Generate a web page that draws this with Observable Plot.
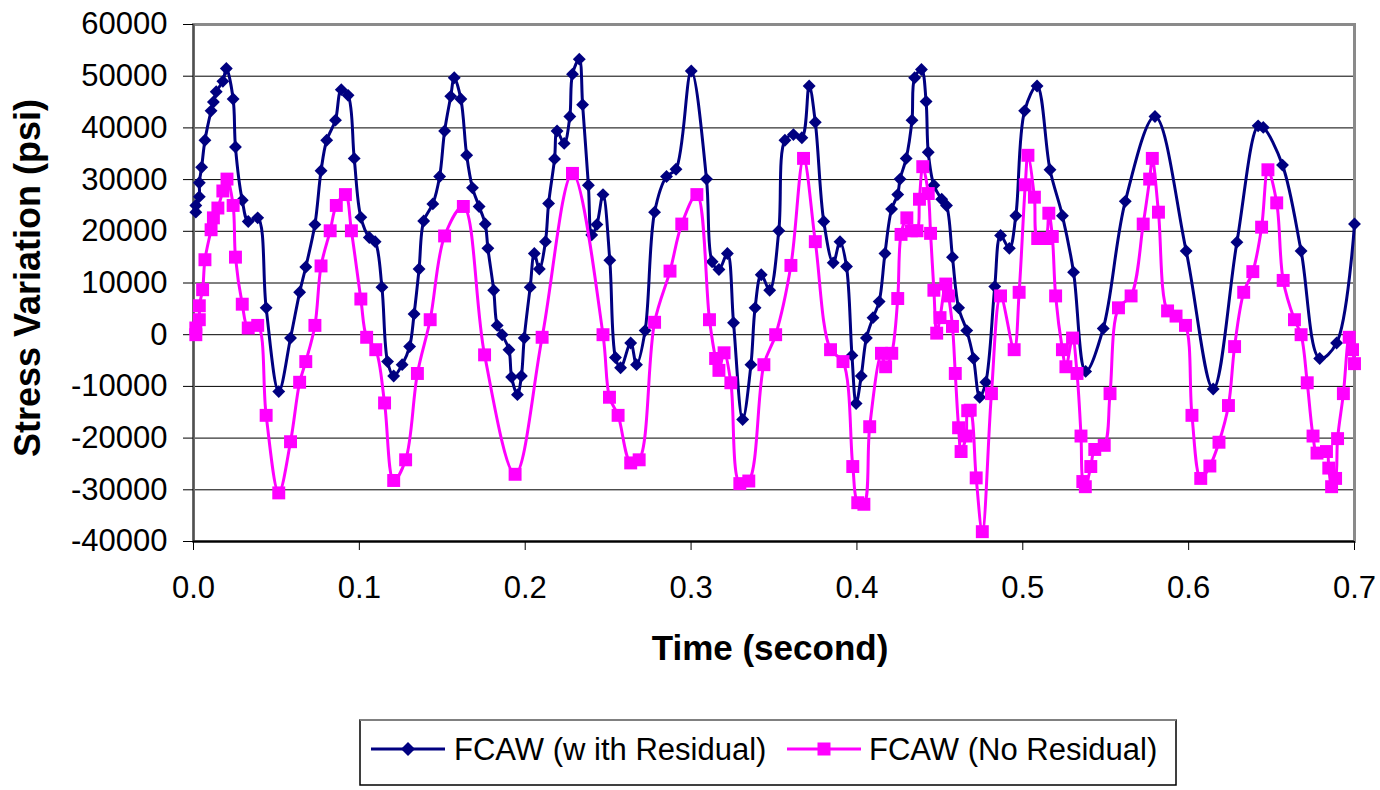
<!DOCTYPE html>
<html><head><meta charset="utf-8">
<script src="https://cdn.jsdelivr.net/npm/d3@7"></script>
<script src="https://cdn.jsdelivr.net/npm/@observablehq/plot@0.6"></script>
<style>
body{margin:0;background:#fff;font-family:"Liberation Sans",Arial,sans-serif;}
#chart{position:absolute;left:0;top:0;}
#legend{position:absolute;left:359px;top:719px;}
</style></head><body>
<div id="chart"></div>
<div id="legend"></div>
<script>
const seriesNames = ["FCAW (w ith Residual)", "FCAW (No Residual)"];
const seriesColors = ["#000080", "#FF00FF"];

const withResidualTime = [0.0014,0.0014,0.0035,0.0035,0.0049,0.0069,0.0106,0.0120,0.0137,0.0177,0.0198,0.0239,0.0253,0.0294,0.0330,0.0387,0.0438,0.0514,0.0585,0.0640,0.0677,0.0732,0.0769,0.0803,0.0856,0.0891,0.0932,0.0969,0.1009,0.1060,0.1095,0.1136,0.1170,0.1207,0.1258,0.1303,0.1330,0.1360,0.1388,0.1443,0.1484,0.1514,0.1551,0.1572,0.1612,0.1647,0.1682,0.1722,0.1759,0.1775,0.1810,0.1831,0.1861,0.1902,0.1918,0.1953,0.1977,0.1994,0.2030,0.2055,0.2085,0.2122,0.2141,0.2177,0.2192,0.2235,0.2269,0.2285,0.2326,0.2346,0.2381,0.2401,0.2432,0.2469,0.2510,0.2544,0.2575,0.2636,0.2671,0.2723,0.2780,0.2852,0.2909,0.3001,0.3093,0.3127,0.3168,0.3219,0.3256,0.3311,0.3361,0.3386,0.3423,0.3474,0.3529,0.3566,0.3617,0.3668,0.3712,0.3749,0.3800,0.3857,0.3898,0.3937,0.3970,0.3995,0.4026,0.4057,0.4097,0.4134,0.4169,0.4209,0.4246,0.4260,0.4297,0.4332,0.4348,0.4389,0.4417,0.4430,0.4464,0.4511,0.4540,0.4576,0.4613,0.4662,0.4703,0.4740,0.4777,0.4831,0.4866,0.4919,0.4958,0.5011,0.5086,0.5164,0.5239,0.5306,0.5379,0.5485,0.5618,0.5797,0.5985,0.6148,0.6291,0.6419,0.6450,0.6566,0.6678,0.6790,0.6892,0.7000];
const withResidualStress = [23700,25000,26700,29400,32400,37600,43300,45000,47000,49000,51500,45600,36300,26000,21900,22600,5200,-11000,-650,8200,13100,21300,31700,37600,41500,47400,46300,34100,22700,18800,18000,9200,-5200,-8000,-5800,-2300,4000,12700,22000,25300,30600,39400,46100,49700,45600,34700,28400,24800,21400,16700,8600,1800,0,-2900,-8200,-11600,-8000,-650,9200,15700,12700,18000,25400,34000,39400,37000,42200,50400,53300,44500,28900,19300,21300,27100,14400,-4400,-6400,-1600,-5800,800,23700,30600,32000,51000,30100,14100,12600,15700,2300,-16400,-5800,5200,11600,8600,20100,37600,38700,38100,48100,41100,21900,13900,18000,13200,-4000,-13300,-8000,-650,3300,6400,15700,24300,27100,30100,34100,41500,49700,51300,45100,35300,28900,26200,25000,15000,5200,800,-4600,-12100,-9200,9300,19200,16700,23000,43300,48100,31900,23000,12100,-7100,1200,25800,42200,16200,-10500,17900,40400,40100,32800,16200,-4600,-1600,21400];

const noResidualTime = [0.0014,0.0014,0.0035,0.0035,0.0055,0.0069,0.0106,0.0120,0.0147,0.0177,0.0202,0.0239,0.0253,0.0294,0.0330,0.0387,0.0438,0.0514,0.0585,0.0640,0.0677,0.0732,0.0769,0.0824,0.0861,0.0916,0.0952,0.1009,0.1044,0.1099,0.1152,0.1207,0.1279,0.1350,0.1427,0.1514,0.1627,0.1755,0.1939,0.2102,0.2285,0.2469,0.2508,0.2560,0.2636,0.2687,0.2780,0.2873,0.2944,0.3035,0.3111,0.3148,0.3168,0.3199,0.3240,0.3294,0.3348,0.3439,0.3510,0.3602,0.3678,0.3749,0.3841,0.3916,0.3975,0.4005,0.4042,0.4077,0.4148,0.4173,0.4210,0.4246,0.4266,0.4301,0.4328,0.4362,0.4377,0.4397,0.4430,0.4444,0.4464,0.4481,0.4501,0.4536,0.4552,0.4576,0.4593,0.4613,0.4628,0.4658,0.4668,0.4683,0.4719,0.4756,0.4811,0.4866,0.4948,0.4978,0.5015,0.5031,0.5070,0.5090,0.5137,0.5157,0.5178,0.5198,0.5239,0.5260,0.5300,0.5327,0.5351,0.5362,0.5377,0.5410,0.5434,0.5491,0.5526,0.5577,0.5653,0.5726,0.5765,0.5781,0.5818,0.5873,0.5924,0.5981,0.6020,0.6073,0.6128,0.6183,0.6240,0.6277,0.6332,0.6387,0.6440,0.6478,0.6531,0.6570,0.6638,0.6678,0.6715,0.6750,0.6774,0.6831,0.6845,0.6862,0.6886,0.6898,0.6933,0.6968,0.6988,0.7000];
const noResidualStress = [0,1300,2900,5600,8700,14500,20300,22600,24500,27800,30100,25000,15000,5900,1300,1800,-15600,-30600,-20700,-9200,-5200,1800,13300,20100,25000,27100,20100,6900,-500,-2900,-13200,-28200,-24200,-7500,2900,19100,24800,-3900,-27000,-500,31200,0,-12100,-15600,-24800,-24200,2400,12300,21400,27100,2900,-4600,-6900,-3500,-9300,-28800,-28300,-5800,0,13400,34100,18000,-2900,-5200,-25500,-32500,-32800,-17800,-3600,-6200,-3600,7000,19400,22600,20100,20100,26200,32500,27300,19600,8600,300,3300,9800,7500,1600,-7500,-18000,-22600,-19600,-14700,-14600,-27700,-38100,-11400,7500,-2900,8200,29000,34700,26600,18600,18600,23500,19000,7500,-2900,-6200,-650,-7500,-19600,-28400,-29400,-25500,-22200,-21400,-11400,5200,7500,21400,30100,34100,23700,4600,3600,1800,-15600,-27800,-25400,-20800,-13700,-2300,8200,12200,20800,31900,25500,10500,2900,0,-9300,-19600,-22900,-22600,-25800,-29400,-27800,-20100,-11400,-500,-2900,-5600];

const xTicks = [0, 0.1, 0.2, 0.3, 0.4, 0.5, 0.6, 0.7];
const xTickLabels = ["0.0","0.1","0.2","0.3","0.4","0.5","0.6","0.7"];
const yTicks = [-40000,-30000,-20000,-10000,0,10000,20000,30000,40000,50000,60000];
const yTickLabels = ["-40000","-30000","-20000","-10000","0","10000","20000","30000","40000","50000","60000"];
const xTitle = "Time (second)";
const yTitle = "Stress Variation (psi)";

const rowsA = withResidualTime.map((t, i) => ({t, v: withResidualStress[i]}));
const rowsB = noResidualTime.map((t, i) => ({t, v: noResidualStress[i]}));

const chart = Plot.plot({
  width: 1380, height: 705,
  marginLeft: 193, marginRight: 26, marginTop: 24, marginBottom: 164,
  style: {fontFamily: "'Liberation Sans', Arial, sans-serif", background: "white", color: "black", overflow: "visible"},
  x: {domain: [0, 0.7]},
  y: {domain: [-40000, 60000]},
  marks: [
    Plot.gridY(yTicks, {stroke: "#000", strokeOpacity: 1, strokeWidth: 1}),
    Plot.frame({stroke: "#8a8a8a", strokeWidth: 3}),
    Plot.ruleX([0], {stroke: "#505050", strokeWidth: 2}),
    Plot.ruleY([-40000], {stroke: "#000", strokeWidth: 2}),
    Plot.axisY({ticks: yTicks, tickFormat: d => yTickLabels[yTicks.indexOf(d)], tickSize: 10, tickPadding: 16, fontSize: 31, label: null}),
    Plot.axisX({ticks: xTicks, tickFormat: d => xTickLabels[xTicks.indexOf(d)], tickSize: 9, tickPadding: 25, fontSize: 31, label: null}),
    Plot.line(rowsA, {x: "t", y: "v", stroke: seriesColors[0], strokeWidth: 3, curve: "catmull-rom"}),
    Plot.dot(rowsA, {x: "t", y: "v", symbol: "diamond2", fill: seriesColors[0], r: 5.8}),
    Plot.line(rowsB, {x: "t", y: "v", stroke: seriesColors[1], strokeWidth: 3, curve: "catmull-rom"}),
    Plot.dot(rowsB, {x: "t", y: "v", symbol: "square", fill: seriesColors[1], r: 7.3}),
    Plot.text([xTitle], {text: d => d, frameAnchor: "bottom", textAnchor: "middle", lineAnchor: "middle", dx: -4, dy: 107, fontSize: 35, fontWeight: "bold", fill: "black"}),
    Plot.text([yTitle], {text: d => d, frameAnchor: "left", textAnchor: "middle", lineAnchor: "middle", rotate: -90, dx: -165, dy: -5, fontSize: 36, fontWeight: "bold", fill: "black"})
  ]
});
document.getElementById("chart").appendChild(chart);

// Legend
const lg = d3.select("#legend").append("svg").attr("width", 820).attr("height", 68);
lg.append("rect").attr("x", 1).attr("y", 1).attr("width", 816).attr("height", 65)
  .attr("fill", "white").attr("stroke", "#000").attr("stroke-width", 1.5);
lg.append("line").attr("x1", 1).attr("x2", 817).attr("y1", 1).attr("y2", 1).attr("stroke", "#808080").attr("stroke-width", 2);
const items = [
  {x0: 12, sym: "diamond", text: seriesNames[0], color: seriesColors[0], tx: 95},
  {x0: 428, sym: "square", text: seriesNames[1], color: seriesColors[1], tx: 510}
];
for (const it of items) {
  const cy = 30;
  lg.append("line").attr("x1", it.x0).attr("x2", it.x0 + 74).attr("y1", cy).attr("y2", cy)
    .attr("stroke", it.color).attr("stroke-width", 3);
  const cx = it.x0 + 37;
  if (it.sym === "diamond") {
    lg.append("path").attr("d", `M${cx},${cy-7}L${cx+7},${cy}L${cx},${cy+7}L${cx-7},${cy}Z`).attr("fill", it.color);
  } else {
    lg.append("rect").attr("x", cx - 6.5).attr("y", cy - 6.5).attr("width", 13).attr("height", 13).attr("fill", it.color);
  }
  lg.append("text").attr("x", it.tx).attr("y", cy + 11).attr("font-size", 31)
    .attr("font-family", "'Liberation Sans', Arial, sans-serif").attr("fill", "#000").text(it.text);
}
</script>
</body></html>
